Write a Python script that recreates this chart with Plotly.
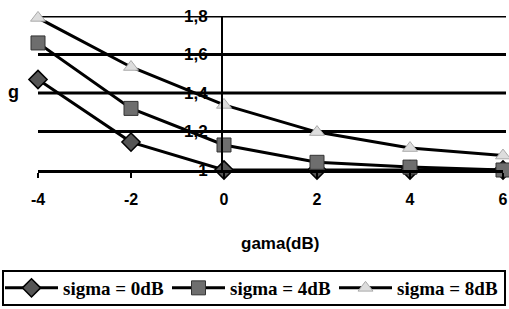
import plotly.graph_objects as go

gama = [-4, -2, 0, 2, 4, 6]
sigma0 = [1.47, 1.145, 1.0, 1.0, 1.0, 1.0]
sigma4 = [1.66, 1.32, 1.13, 1.04, 1.015, 1.0]
sigma8 = [1.79, 1.535, 1.338, 1.197, 1.114, 1.075]
names = ["sigma = 0dB", "sigma = 4dB", "sigma = 8dB"]
y_ticks = [1.0, 1.2, 1.4, 1.6, 1.8]

W, H = 509, 309
L, R, T, B = 38, 6, 16, 139
pw, ph = W - L - R, H - T - B

def px(x):
    return (x - L) / pw

def py(y):
    return (H - B - y) / ph

sans = "Liberation Sans, Arial, sans-serif"
serif = "Liberation Serif, Times New Roman, serif"

fig = go.Figure()
fig.add_trace(go.Scatter(x=gama, y=sigma0, name=names[0], mode="lines+markers",
                         line=dict(color="black", width=3),
                         marker=dict(symbol="diamond", size=14, color="#555555",
                                     line=dict(color="black", width=1.5)),
                         cliponaxis=False))
fig.add_trace(go.Scatter(x=gama, y=sigma4, name=names[1], mode="lines+markers",
                         line=dict(color="black", width=3),
                         marker=dict(symbol="square", size=14, color="#6e6e6e",
                                     line=dict(color="#333333", width=1)),
                         cliponaxis=False))
fig.add_trace(go.Scatter(x=gama, y=sigma8, name=names[2], mode="lines+markers",
                         line=dict(color="black", width=3),
                         marker=dict(symbol="triangle-up", size=13, color="#dddddd",
                                     line=dict(color="#aaaaaa", width=1)),
                         cliponaxis=False))

shapes = [
    dict(type="line", xref="paper", yref="y", x0=0, x1=px(506), y0=v, y1=v,
         line=dict(color="black", width=3), layer="below")
    for v in y_ticks[1:]
]
shapes.append(dict(type="rect", xref="paper", yref="paper",
                   x0=px(3), x1=px(505), y0=py(305), y1=py(271),
                   line=dict(color="black", width=2), fillcolor="rgba(0,0,0,0)"))

fig.update_layout(
    width=W, height=H,
    margin=dict(l=L, r=R, t=T, b=B, autoexpand=False),
    paper_bgcolor="white", plot_bgcolor="white",
    separators=",.",
    showlegend=True,
    legend=dict(orientation="h", xref="paper", yref="paper",
                x=px(0), xanchor="left", y=py(269), yanchor="top",
                font=dict(family=serif, size=19, color="black", weight="bold"),
                entrywidth=99, entrywidthmode="pixels", itemwidth=53,
                bgcolor="rgba(0,0,0,0)", borderwidth=0),
    xaxis=dict(range=[-4, 6], tickvals=gama, ticktext=[str(v) for v in gama],
               showgrid=False, zeroline=False, automargin=False,
               showline=True, linecolor="black", linewidth=3,
               ticks="outside", ticklen=5, tickwidth=2, tickcolor="black",
               ticklabelstandoff=8,
               tickfont=dict(family=sans, size=16, color="black", weight="bold")),
    yaxis=dict(range=[1.0, 1.8], tickvals=y_ticks,
               anchor="free", position=px(222), automargin=False,
               showgrid=False,
               zeroline=False, showline=True, linecolor="black", linewidth=2,
               ticks="", ticklabelstandoff=10,
               tickfont=dict(family=sans, size=17, color="black", weight="bold")),
    annotations=[
        dict(text="gama(dB)", x=px(280), y=py(243), xref="paper", yref="paper",
             showarrow=False, xanchor="center", yanchor="middle",
             font=dict(family=sans, size=17, color="black", weight="bold")),
        dict(text="g", x=px(13), y=py(92), xref="paper", yref="paper",
             showarrow=False, xanchor="center", yanchor="middle",
             font=dict(family=sans, size=18, color="black", weight="bold")),
    ],
    shapes=shapes,
)

fig.write_html("out.html", config={"displayModeBar": False},
               post_script="document.body.style.margin='0';")
